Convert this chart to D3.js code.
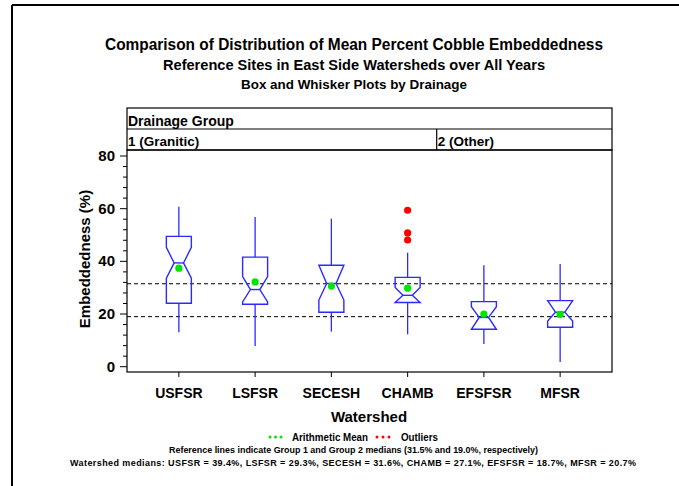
<!DOCTYPE html>
<html>
<head>
<meta charset="utf-8">
<script src="https://cdn.jsdelivr.net/npm/d3@7"></script>
<style>
  body { margin: 0; background: #fff; }
  svg text { font-family: "Liberation Sans", Arial, sans-serif; font-weight: bold; fill: #000; }
</style>
</head>
<body>
<svg id="chart" width="679" height="486"></svg>
<script>
// watersheds and their drainage groups
const watersheds = ['USFSR', 'LSFSR', 'SECESH', 'CHAMB', 'EFSFSR', 'MFSR'];
const groupNames = ['1 (Granitic)', '2 (Other)'];

// box stats (percent)
const whiskerHi = [60.7, 56.8, 56.2, 43.3, 38.5, 39.0];
const q3 = [49.5, 41.6, 38.5, 33.9, 24.7, 25.1];
const notchHi = [45.3, 34.2, 39.0, 30.1, 22.8, 25.6];
const medians = [39.4, 29.3, 31.6, 27.1, 18.7, 20.7];
const notchLo = [33.6, 24.6, 25.3, 24.0, 13.8, 17.3];
const q1 = [24.1, 23.7, 20.7, 24.4, 14.2, 15.0];
const whiskerLo = [13.1, 7.9, 13.3, 12.3, 8.6, 1.8];
const means = [37.4, 32.2, 30.6, 29.8, 20.0, 19.9];
const outliers = [[], [], [], [59.4, 50.8, 48.1], [], []];

// group medians for the reference lines
const refLines = [31.5, 19.0];
const yTicks = [0, 20, 40, 60, 80];

const svg = d3.select('#chart');

// plot box
const plot = { left: 127, right: 612, top: 150, bottom: 372 };

// outer frame (left and top only, the rest is cropped)
svg.append('line').attr('x1', 12).attr('x2', 12).attr('y1', 5).attr('y2', 486)
    .attr('stroke', '#000').attr('stroke-width', 2);
svg.append('line').attr('x1', 12).attr('x2', 679).attr('y1', 5).attr('y2', 5)
    .attr('stroke', '#000').attr('stroke-width', 2);

// titles
const titles = [
    { t: 'Comparison of Distribution of Mean Percent Cobble Embeddedness', y: 50, s: 16, w: 498 },
    { t: 'Reference Sites in East Side Watersheds over All Years', y: 70, s: 14, w: 382 },
    { t: 'Box and Whisker Plots by Drainage', y: 89, s: 13, w: 226 }
];
titles.forEach(d => {
    svg.append('text').attr('x', 354).attr('y', d.y)
        .attr('text-anchor', 'middle').style('font-size', d.s + 'px')
        .attr('textLength', d.w).attr('lengthAdjust', 'spacingAndGlyphs').text(d.t);
});

// scales
const x = d3.scalePoint().domain(watersheds)
    .range([plot.left, plot.right]).padding(0.68);
const y = d3.scaleLinear().domain([0, 80]).range([366.7, 156]);

// panel header
const header = svg.append('g');
header.append('rect').attr('x', plot.left).attr('y', 108)
    .attr('width', plot.right - plot.left).attr('height', 42)
    .attr('fill', 'none').attr('stroke', '#000').attr('stroke-width', 1.2);
header.append('line').attr('x1', plot.left).attr('x2', plot.right)
    .attr('y1', 129).attr('y2', 129).attr('stroke', '#000').attr('stroke-width', 1.2);
header.append('text').attr('x', plot.left + 1).attr('y', 126)
    .style('font-size', '14px').text('Drainage Group');

// group divider sits between CHAMB and EFSFSR
const divX = 436.7;
header.append('line').attr('x1', divX).attr('x2', divX).attr('y1', 129).attr('y2', 150)
    .attr('stroke', '#000').attr('stroke-width', 1.2);
header.append('text').attr('x', plot.left + 1).attr('y', 146)
    .style('font-size', '13.5px').text(groupNames[0]);
header.append('text').attr('x', divX + 1).attr('y', 146)
    .style('font-size', '13.5px').text(groupNames[1]);

// plot frame
svg.append('rect').attr('x', plot.left).attr('y', plot.top)
    .attr('width', plot.right - plot.left).attr('height', plot.bottom - plot.top)
    .attr('fill', 'none').attr('stroke', '#000').attr('stroke-width', 1.2);

// y axis: major and minor ticks
const yAxis = svg.append('g');
d3.range(0, 81, 4).forEach(v => {
    const major = v % 20 === 0;
    yAxis.append('line').attr('x1', plot.left - (major ? 7 : 4)).attr('x2', plot.left)
        .attr('y1', y(v)).attr('y2', y(v)).attr('stroke', '#000').attr('stroke-width', 1);
});
yAxis.selectAll('text.tick').data(yTicks).join('text')
    .attr('class', 'tick')
    .attr('x', plot.left - 12).attr('y', d => y(d) + 5)
    .attr('text-anchor', 'end').style('font-size', '15px').text(d => d);
svg.append('text')
    .attr('transform', `translate(90,${(plot.top + plot.bottom) / 2 - 2}) rotate(-90)`)
    .attr('text-anchor', 'middle').style('font-size', '15px').text('Embeddedness (%)');

// x axis
watersheds.forEach(w => {
    svg.append('line').attr('x1', x(w)).attr('x2', x(w))
        .attr('y1', plot.bottom).attr('y2', plot.bottom + 5)
        .attr('stroke', '#000').attr('stroke-width', 1);
});
svg.selectAll('text.xlab').data(watersheds).join('text')
    .attr('class', 'xlab')
    .attr('x', d => x(d)).attr('y', 398)
    .attr('text-anchor', 'middle').style('font-size', '14px').text(d => d);
svg.append('text').attr('x', 369).attr('y', 422)
    .attr('text-anchor', 'middle').style('font-size', '15px').text('Watershed');

// reference lines
refLines.forEach(v => {
    svg.append('line').attr('x1', plot.left).attr('x2', plot.right)
        .attr('y1', y(v)).attr('y2', y(v))
        .attr('stroke', '#000').attr('stroke-width', 1).attr('stroke-dasharray', '4,3');
});

// notched boxes
const blue = '#2b2bff';
const halfW = 12.5;
const notchW = 4.7;
const boxes = svg.append('g');
watersheds.forEach((w, i) => {
    const cx = x(w);
    const L = cx - halfW, R = cx + halfW;
    const nHi = Math.min(notchHi[i], q3[i]);
    const nLo = Math.max(notchLo[i], q1[i]);
    const pts = [
        [L, y(q3[i])], [R, y(q3[i])], [R, y(nHi)],
        [cx + notchW, y(medians[i])], [R, y(nLo)], [R, y(q1[i])],
        [L, y(q1[i])], [L, y(nLo)], [cx - notchW, y(medians[i])], [L, y(nHi)]
    ];
    boxes.append('path').attr('d', d3.line()(pts) + 'Z')
        .attr('fill', 'none').attr('stroke', blue).attr('stroke-width', 1.4);
    boxes.append('line').attr('x1', cx - notchW).attr('x2', cx + notchW)
        .attr('y1', y(medians[i])).attr('y2', y(medians[i]))
        .attr('stroke', blue).attr('stroke-width', 1.4);
    // whiskers, no caps
    boxes.append('line').attr('x1', cx).attr('x2', cx)
        .attr('y1', y(q3[i])).attr('y2', y(whiskerHi[i]))
        .attr('stroke', blue).attr('stroke-width', 1.3);
    boxes.append('line').attr('x1', cx).attr('x2', cx)
        .attr('y1', y(q1[i])).attr('y2', y(whiskerLo[i]))
        .attr('stroke', blue).attr('stroke-width', 1.3);
    // outliers
    outliers[i].forEach(o => {
        boxes.append('circle').attr('cx', cx).attr('cy', y(o)).attr('r', 3.6)
            .attr('fill', '#ff0000');
    });
    // mean
    boxes.append('circle').attr('cx', cx).attr('cy', y(means[i])).attr('r', 3.6)
        .attr('fill', '#00e600');
});

// legend
const legend = svg.append('g');
[270, 275.5, 281].forEach(px => legend.append('circle')
    .attr('cx', px).attr('cy', 437).attr('r', 1.5).attr('fill', '#00e600'));
legend.append('text').attr('x', 292).attr('y', 441).style('font-size', '11px')
    .attr('textLength', 76).attr('lengthAdjust', 'spacingAndGlyphs').text('Arithmetic Mean');
[377, 383, 389].forEach(px => legend.append('circle')
    .attr('cx', px).attr('cy', 437).attr('r', 1.5).attr('fill', '#ff0000'));
legend.append('text').attr('x', 401).attr('y', 441).style('font-size', '11px')
    .attr('textLength', 37).attr('lengthAdjust', 'spacingAndGlyphs').text('Outliers');

// footnotes
svg.append('text').attr('x', 169).attr('y', 453).style('font-size', '8.5px')
    .attr('textLength', 369).attr('lengthAdjust', 'spacingAndGlyphs')
    .text(`Reference lines indicate Group 1 and Group 2 medians (${refLines[0].toFixed(1)}% and ${refLines[1].toFixed(1)}%, respectively)`);
const medText = 'Watershed medians: ' +
    watersheds.map((w, i) => `${w} = ${medians[i].toFixed(1)}%`).join(', ');
svg.append('text').attr('x', 70).attr('y', 466).style('font-size', '9px')
    .attr('textLength', 566).attr('lengthAdjust', 'spacing').text(medText);
</script>
</body>
</html>
